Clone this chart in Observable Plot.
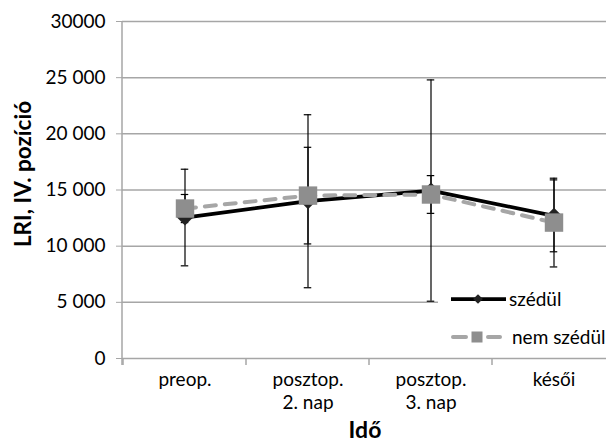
<!DOCTYPE html>
<html><head><meta charset="utf-8">
<script src="https://cdn.jsdelivr.net/npm/d3@7"></script>
<script src="https://cdn.jsdelivr.net/npm/@observablehq/plot@0.6"></script>
<style>
body{margin:0;background:#fff}
</style></head><body><div id="chart"></div>
<script>
const categories = ["preop.", "posztop.\n2. nap", "posztop.\n3. nap", "késői"];
const seriesNames = ["szédül", "nem szédül"];
const szedul = [12550, 14000, 14950, 12700];
const szedulErr = [4300, 7700, 9850, 3200];
const nemSzedul = [13350, 14500, 14600, 12100];
const nemSzedulErr = [1250, 4300, 1680, 3950];
const yTicks = [0, 5000, 10000, 15000, 20000, 25000, 30000];
const yTickLabels = ["0", "5 000", "10 000", "15 000", "20 000", "25 000", "30000"];
const yTitle = "LRI, IV. pozíció";
const xTitle = "Idő";

const FONT = "Lato, 'Open Sans', sans-serif";
const GRID = "#a6a6a6";
const FS = 19;

const szRows = categories.map((c, i) => ({cat: c, v: szedul[i], lo: szedul[i] - szedulErr[i], hi: szedul[i] + szedulErr[i]}));
const nemRows = categories.map((c, i) => ({cat: c, v: nemSzedul[i], lo: nemSzedul[i] - nemSzedulErr[i], hi: nemSzedul[i] + nemSzedulErr[i]}));
const errRows = [...szRows, ...nemRows];

const xRange = [122, 616];
const band = (xRange[1] - xRange[0]) / categories.length;
const capInset = (band - 8) / 2;

const chart = Plot.plot({
  width: 606, height: 448,
  marginLeft: 122, marginRight: 0, marginTop: 21, marginBottom: 90,
  style: {fontFamily: FONT, fontSize: FS + "px", color: "#000", background: "#fff", overflow: "hidden"},
  x: {type: "band", domain: categories, range: xRange, padding: 0, label: null},
  y: {domain: [0, 30000], label: null},
  marks: [
    Plot.gridY(yTicks.filter(d => d > 0), {stroke: GRID, strokeOpacity: 1, strokeWidth: 1.5}),
    Plot.ruleY([0], {stroke: GRID, strokeWidth: 1.5}),
    Plot.axisY({ticks: yTicks, tickFormat: d => yTickLabels[yTicks.indexOf(d)], tickSize: 6, tickPadding: 11, stroke: GRID, fill: "#000", label: null}),
    Plot.axisX({tickSize: 0, tickPadding: 11, lineHeight: 1.22, fill: "#000", label: null}),
    Plot.ruleX(errRows, {x: "cat", y1: "lo", y2: "hi", stroke: "#000", strokeWidth: 1.2}),
    Plot.tickY(errRows, {x: "cat", y: "lo", insetLeft: capInset, insetRight: capInset, stroke: "#000", strokeWidth: 1.2}),
    Plot.tickY(errRows, {x: "cat", y: "hi", insetLeft: capInset, insetRight: capInset, stroke: "#000", strokeWidth: 1.2}),
    Plot.line(szRows, {x: "cat", y: "v", stroke: "#000", strokeWidth: 3.75}),
    Plot.dot(szRows, {x: "cat", y: "v", symbol: "diamond2", r: 7.2, fill: "#222", stroke: "none"}),
    Plot.line(nemRows, {x: "cat", y: "v", stroke: "#a6a6a6", strokeWidth: 4, strokeDasharray: "11,9", strokeLinecap: "round"}),
    Plot.dot(nemRows, {x: "cat", y: "v", symbol: "square", r: 10.4, fill: "#8e8e8e", stroke: "none"})
  ]
});

document.getElementById("chart").appendChild(chart);

const svg = d3.select(chart);
const xs = chart.scale("x");
const ys = chart.scale("y");
const y0 = ys.apply(0), yTop = ys.apply(30000);

// vertical axis line
svg.append("line").attr("x1", xRange[0]).attr("x2", xRange[0]).attr("y1", yTop).attr("y2", y0 + 7)
  .attr("stroke", GRID).attr("stroke-width", 1.5);
// category boundary ticks
categories.forEach(c => {
  const x = xs.apply(c);
  svg.append("line").attr("x1", x).attr("x2", x).attr("y1", y0).attr("y2", y0 + 7)
    .attr("stroke", GRID).attr("stroke-width", 1.5);
});

// legend
const lg = svg.append("g").attr("text-anchor", "start");
lg.append("rect").attr("x", 438).attr("y", 283).attr("width", 170).attr("height", 70).attr("fill", "#fff");
lg.append("line").attr("x1", 451).attr("x2", 506).attr("y1", 299).attr("y2", 299).attr("stroke", "#000").attr("stroke-width", 3.75);
lg.append("path").attr("d", d3.symbol(d3.symbolDiamond2, 60)()).attr("transform", "translate(478,299)").attr("fill", "#222");
lg.append("text").attr("x", 509).attr("y", 299).attr("dy", "0.35em").attr("text-anchor", "start").attr("font-family", FONT).attr("font-size", FS).text(seriesNames[0]);
lg.append("line").attr("x1", 453).attr("x2", 500).attr("y1", 337).attr("y2", 337).attr("stroke", "#a6a6a6").attr("stroke-width", 4)
  .attr("stroke-dasharray", "13,22").attr("stroke-linecap", "round");
lg.append("rect").attr("x", 471.5).attr("y", 331.5).attr("width", 11).attr("height", 11).attr("fill", "#8e8e8e");
lg.append("text").attr("x", 512).attr("y", 337).attr("dy", "0.35em").attr("text-anchor", "start").attr("font-family", FONT).attr("font-size", FS).text(seriesNames[1]);

// titles
svg.append("text").attr("transform", "translate(23,174) rotate(-90)").attr("text-anchor", "middle").attr("dy", "0.35em")
  .attr("font-family", FONT).attr("font-weight", "bold").attr("font-size", 22.5).text(yTitle);
svg.append("text").attr("x", 365).attr("y", 430).attr("text-anchor", "middle").attr("dy", "0.35em")
  .attr("font-family", FONT).attr("font-weight", "bold").attr("font-size", 23).text(xTitle);
</script></body></html>
